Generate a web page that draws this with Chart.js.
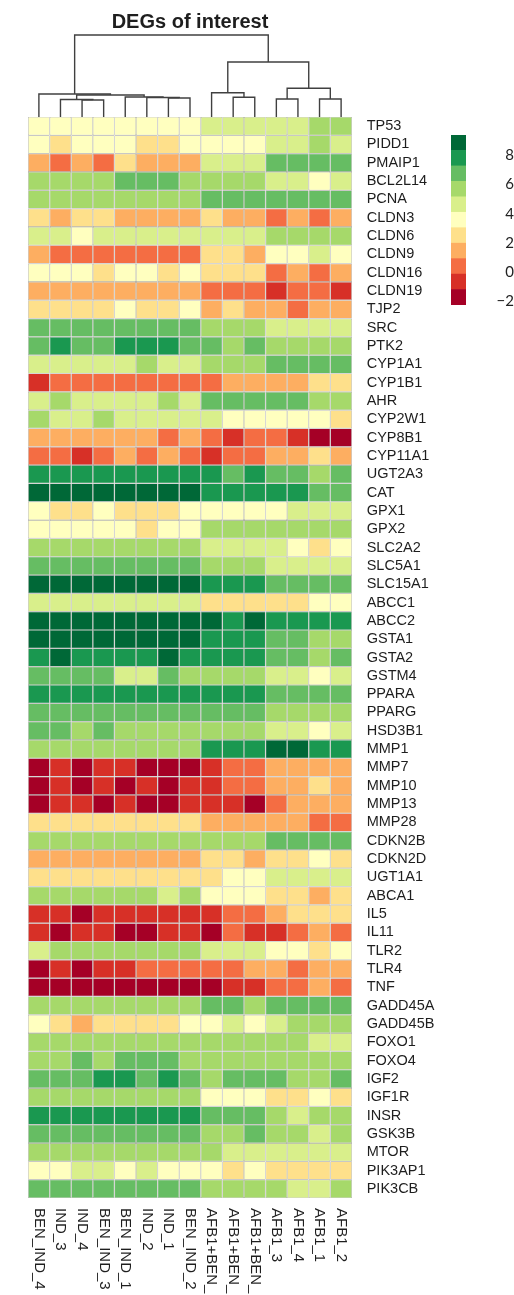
<!DOCTYPE html>
<html>
<head>
<meta charset="utf-8">
<title>DEGs of interest</title>
<script src="https://cdn.jsdelivr.net/npm/chart.js@4.4.1/dist/chart.umd.min.js"></script>
<style>
  html, body { margin: 0; padding: 0; background: #fff; }
  #wrap { position: relative; width: 514px; height: 1295px; }
  #heat { position: absolute; left: 0; top: 0; }
  #legend { position: absolute; left: 440px; top: 100px; }
</style>
</head>
<body>
<div id="wrap">
  <canvas id="heat" width="514" height="1295"></canvas>
  <canvas id="legend" width="74" height="240"></canvas>
</div>
<script>
  // rows top to bottom, columns left to right (dendrogram order)
  const genes = ['TP53', 'PIDD1', 'PMAIP1', 'BCL2L14', 'PCNA', 'CLDN3', 'CLDN6', 'CLDN9', 'CLDN16', 'CLDN19',
    'TJP2', 'SRC', 'PTK2', 'CYP1A1', 'CYP1B1', 'AHR', 'CYP2W1', 'CYP8B1', 'CYP11A1', 'UGT2A3',
    'CAT', 'GPX1', 'GPX2', 'SLC2A2', 'SLC5A1', 'SLC15A1', 'ABCC1', 'ABCC2', 'GSTA1', 'GSTA2',
    'GSTM4', 'PPARA', 'PPARG', 'HSD3B1', 'MMP1', 'MMP7', 'MMP10', 'MMP13', 'MMP28', 'CDKN2B',
    'CDKN2D', 'UGT1A1', 'ABCA1', 'IL5', 'IL11', 'TLR2', 'TLR4', 'TNF', 'GADD45A', 'GADD45B',
    'FOXO1', 'FOXO4', 'IGF2', 'IGF1R', 'INSR', 'GSK3B', 'MTOR', 'PIK3AP1', 'PIK3CB'];

  const samples = ['BEN_IND_4', 'IND_3', 'IND_4', 'BEN_IND_3', 'BEN_IND_1', 'IND_2', 'IND_1', 'BEN_IND_2',
    'AFB1+BEN_', 'AFB1+BEN_', 'AFB1+BEN_', 'AFB1_3', 'AFB1_4', 'AFB1_1', 'AFB1_2'];

  const values = [
    [3.6, 3.6, 3.6, 3.6, 3.6, 3.6, 3.6, 3.6, 4.6, 4.6, 4.6, 4.6, 4.6, 5.7, 5.7],
    [3.6, 2.5, 3.6, 3.6, 3.6, 2.5, 2.5, 3.6, 3.6, 3.6, 3.6, 4.6, 4.6, 5.7, 4.6],
    [1.5, 0.4, 1.5, 0.4, 2.5, 1.5, 1.5, 1.5, 4.6, 4.6, 4.6, 6.8, 6.8, 6.8, 6.8],
    [5.7, 5.7, 5.7, 5.7, 6.8, 6.8, 6.8, 5.7, 5.7, 5.7, 5.7, 4.6, 4.6, 3.6, 4.6],
    [5.7, 5.7, 5.7, 5.7, 5.7, 5.7, 5.7, 5.7, 6.8, 6.8, 6.8, 6.8, 6.8, 6.8, 6.8],
    [2.5, 1.5, 2.5, 2.5, 1.5, 1.5, 1.5, 1.5, 2.5, 1.5, 1.5, 0.4, 1.5, 0.4, 1.5],
    [4.6, 4.6, 3.6, 4.6, 4.6, 4.6, 4.6, 4.6, 4.6, 4.6, 4.6, 5.7, 5.7, 5.7, 5.7],
    [1.5, 0.4, 0.4, 0.4, 0.4, 0.4, 0.4, 0.4, 2.5, 2.5, 1.5, 3.6, 3.6, 4.6, 3.6],
    [3.6, 3.6, 3.6, 2.5, 3.6, 3.6, 2.5, 3.6, 2.5, 2.5, 2.5, 0.4, 1.5, 0.4, 1.5],
    [1.5, 1.5, 1.5, 1.5, 1.5, 1.5, 1.5, 1.5, 0.4, 0.4, 0.4, -0.7, 0.4, 0.4, -0.7],
    [2.5, 2.5, 2.5, 2.5, 3.6, 2.5, 2.5, 3.6, 1.5, 2.5, 1.5, 1.5, 0.4, 1.5, 1.5],
    [6.8, 6.8, 6.8, 6.8, 6.8, 6.8, 6.8, 6.8, 5.7, 5.7, 5.7, 4.6, 4.6, 4.6, 4.6],
    [6.8, 7.8, 6.8, 6.8, 7.8, 7.8, 7.8, 6.8, 6.8, 5.7, 6.8, 5.7, 5.7, 5.7, 5.7],
    [4.6, 4.6, 4.6, 4.6, 4.6, 5.7, 4.6, 4.6, 5.7, 5.7, 5.7, 6.8, 6.8, 6.8, 6.8],
    [-0.7, 0.4, 0.4, 0.4, 0.4, 0.4, 0.4, 0.4, 0.4, 1.5, 1.5, 1.5, 1.5, 2.5, 2.5],
    [4.6, 5.7, 4.6, 4.6, 4.6, 4.6, 5.7, 4.6, 6.8, 6.8, 6.8, 6.8, 6.8, 5.7, 5.7],
    [5.7, 4.6, 4.6, 5.7, 4.6, 4.6, 4.6, 4.6, 4.6, 3.6, 3.6, 3.6, 3.6, 3.6, 2.5],
    [1.5, 1.5, 1.5, 1.5, 1.5, 1.5, 0.4, 1.5, 0.4, -0.7, 0.4, 0.4, -0.7, -1.7, -1.7],
    [0.4, 0.4, -0.7, 0.4, 1.5, 0.4, 1.5, 0.4, -0.7, 0.4, 0.4, 1.5, 1.5, 2.5, 1.5],
    [7.8, 7.8, 7.8, 7.8, 7.8, 7.8, 7.8, 7.8, 7.8, 6.8, 7.8, 6.8, 6.8, 5.7, 6.8],
    [8.9, 8.9, 8.9, 8.9, 8.9, 8.9, 8.9, 8.9, 7.8, 7.8, 7.8, 7.8, 7.8, 6.8, 6.8],
    [3.6, 2.5, 2.5, 3.6, 2.5, 2.5, 2.5, 3.6, 3.6, 3.6, 3.6, 3.6, 4.6, 4.6, 4.6],
    [3.6, 3.6, 3.6, 3.6, 3.6, 2.5, 3.6, 3.6, 5.7, 5.7, 5.7, 5.7, 5.7, 5.7, 5.7],
    [5.7, 5.7, 5.7, 5.7, 5.7, 5.7, 5.7, 5.7, 4.6, 4.6, 4.6, 4.6, 3.6, 2.5, 3.6],
    [6.8, 6.8, 6.8, 6.8, 6.8, 6.8, 6.8, 6.8, 5.7, 5.7, 5.7, 4.6, 4.6, 4.6, 4.6],
    [8.9, 8.9, 8.9, 8.9, 8.9, 8.9, 8.9, 8.9, 7.8, 7.8, 7.8, 6.8, 6.8, 6.8, 6.8],
    [4.6, 4.6, 4.6, 4.6, 4.6, 4.6, 4.6, 4.6, 2.5, 2.5, 2.5, 2.5, 2.5, 3.6, 3.6],
    [8.9, 8.9, 8.9, 8.9, 8.9, 8.9, 8.9, 8.9, 8.9, 7.8, 8.9, 7.8, 7.8, 7.8, 7.8],
    [8.9, 8.9, 8.9, 8.9, 8.9, 8.9, 8.9, 8.9, 7.8, 7.8, 7.8, 6.8, 6.8, 5.7, 5.7],
    [7.8, 8.9, 7.8, 7.8, 7.8, 7.8, 8.9, 7.8, 7.8, 7.8, 7.8, 6.8, 6.8, 5.7, 6.8],
    [6.8, 6.8, 6.8, 6.8, 4.6, 4.6, 6.8, 5.7, 5.7, 5.7, 5.7, 4.6, 4.6, 3.6, 4.6],
    [7.8, 7.8, 7.8, 7.8, 7.8, 7.8, 7.8, 7.8, 7.8, 7.8, 7.8, 6.8, 6.8, 6.8, 6.8],
    [6.8, 6.8, 6.8, 6.8, 6.8, 6.8, 6.8, 6.8, 6.8, 6.8, 6.8, 5.7, 5.7, 5.7, 5.7],
    [6.8, 6.8, 5.7, 6.8, 5.7, 5.7, 5.7, 5.7, 5.7, 5.7, 5.7, 4.6, 4.6, 3.6, 4.6],
    [5.7, 5.7, 5.7, 5.7, 5.7, 5.7, 5.7, 5.7, 7.8, 7.8, 7.8, 8.9, 8.9, 7.8, 7.8],
    [-1.7, -0.7, -1.7, -0.7, -0.7, -1.7, -1.7, -1.7, -0.7, 0.4, 0.4, 1.5, 1.5, 1.5, 1.5],
    [-1.7, -0.7, -1.7, -0.7, -1.7, -0.7, -1.7, -0.7, -0.7, 0.4, 0.4, 1.5, 1.5, 2.5, 1.5],
    [-1.7, -0.7, -0.7, -1.7, -0.7, -1.7, -1.7, -0.7, -0.7, -0.7, -1.7, 0.4, 1.5, 1.5, 1.5],
    [2.5, 2.5, 2.5, 2.5, 2.5, 2.5, 2.5, 2.5, 1.5, 1.5, 1.5, 1.5, 1.5, 0.4, 0.4],
    [5.7, 5.7, 5.7, 5.7, 5.7, 5.7, 5.7, 5.7, 5.7, 5.7, 5.7, 6.8, 6.8, 6.8, 6.8],
    [1.5, 1.5, 1.5, 1.5, 1.5, 1.5, 1.5, 1.5, 2.5, 2.5, 1.5, 2.5, 2.5, 3.6, 2.5],
    [2.5, 2.5, 2.5, 2.5, 2.5, 2.5, 2.5, 2.5, 2.5, 3.6, 3.6, 4.6, 4.6, 4.6, 4.6],
    [5.7, 5.7, 5.7, 5.7, 5.7, 5.7, 4.6, 5.7, 3.6, 3.6, 3.6, 2.5, 2.5, 1.5, 2.5],
    [-0.7, -0.7, -1.7, -0.7, -0.7, -0.7, -0.7, -0.7, -0.7, 0.4, 0.4, 1.5, 2.5, 2.5, 2.5],
    [-0.7, -1.7, -0.7, -0.7, -1.7, -1.7, -0.7, -0.7, -1.7, 0.4, -0.7, -0.7, 0.4, 1.5, 0.4],
    [4.6, 5.7, 5.7, 5.7, 5.7, 5.7, 5.7, 5.7, 4.6, 4.6, 4.6, 3.6, 3.6, 2.5, 3.6],
    [-1.7, -0.7, -1.7, -0.7, -0.7, 0.4, 0.4, 0.4, 0.4, 0.4, 1.5, 1.5, 0.4, 1.5, 1.5],
    [-1.7, -1.7, -1.7, -1.7, -1.7, -1.7, -1.7, -1.7, -1.7, -0.7, -0.7, 0.4, 0.4, 1.5, 0.4],
    [5.7, 5.7, 5.7, 5.7, 5.7, 5.7, 5.7, 5.7, 6.8, 6.8, 5.7, 6.8, 6.8, 6.8, 6.8],
    [3.6, 2.5, 1.5, 2.5, 2.5, 2.5, 2.5, 3.6, 3.6, 4.6, 3.6, 4.6, 5.7, 5.7, 5.7],
    [5.7, 5.7, 5.7, 5.7, 5.7, 5.7, 5.7, 5.7, 5.7, 5.7, 5.7, 5.7, 5.7, 4.6, 4.6],
    [5.7, 5.7, 6.8, 5.7, 6.8, 6.8, 6.8, 5.7, 5.7, 5.7, 5.7, 5.7, 5.7, 5.7, 5.7],
    [6.8, 6.8, 6.8, 7.8, 7.8, 6.8, 7.8, 6.8, 5.7, 6.8, 6.8, 6.8, 5.7, 5.7, 6.8],
    [5.7, 5.7, 5.7, 5.7, 5.7, 5.7, 5.7, 5.7, 3.6, 3.6, 3.6, 2.5, 2.5, 3.6, 2.5],
    [7.8, 7.8, 7.8, 7.8, 7.8, 7.8, 7.8, 7.8, 6.8, 6.8, 6.8, 5.7, 4.6, 5.7, 5.7],
    [6.8, 6.8, 6.8, 6.8, 6.8, 6.8, 6.8, 6.8, 5.7, 5.7, 6.8, 5.7, 5.7, 4.6, 5.7],
    [5.7, 5.7, 5.7, 5.7, 5.7, 5.7, 5.7, 5.7, 5.7, 4.6, 4.6, 4.6, 4.6, 4.6, 4.6],
    [3.6, 3.6, 4.6, 4.6, 3.6, 4.6, 3.6, 3.6, 3.6, 2.5, 3.6, 2.5, 2.5, 2.5, 2.5],
    [6.8, 6.8, 6.8, 6.8, 6.8, 6.8, 6.8, 6.8, 5.7, 5.7, 5.7, 5.7, 4.6, 4.6, 5.7]
  ];

  // column clustering, hclust style: -n = leaf n (1-based column), n = earlier merge n
  const merges = [
    [-3, -4, 17],
    [-2, 1, 17.5],
    [-7, -8, 19],
    [-6, 3, 19.5],
    [-5, 4, 20],
    [2, 5, 22],
    [-1, 6, 23],
    [-10, -11, 19.7],
    [-9, 8, 24.3],
    [-12, -13, 18],
    [-14, -15, 18],
    [10, 11, 28.7],
    [9, 12, 55],
    [7, 13, 82]
  ];

  const palette = ['#a50026', '#d73027', '#f46d43', '#fdae61', '#fee08b', '#ffffbf',
    '#d9ef8b', '#a6d96a', '#66bd63', '#1a9850', '#006837'];
  const legendMin = -2.27;
  const legendMax = 9.41;
  const legendTicks = [8, 6, 4, 2, 0, -2];

  const FONT = '"Liberation Sans", Arial, sans-serif';
  const binW = (legendMax - legendMin) / palette.length;

  function colorOf(v) {
    let k = Math.floor((v - legendMin) / binW);
    k = Math.max(0, Math.min(palette.length - 1, k));
    return palette[k];
  }

  const heatSets = genes.map((g, r) => ({
    type: 'bar',
    label: g,
    xAxisID: 'x',
    yAxisID: 'y',
    data: samples.map((s, c) => ({ x: c + 0.5, y: 1 })),
    backgroundColor: values[r].map(colorOf),
    borderColor: '#a3a3a0',
    borderWidth: 0.6,
    borderSkipped: false,
    inflateAmount: 0,
    barPercentage: 1,
    categoryPercentage: 1
  }));

  const nodeX = [], nodeH = [];
  function nodePos(id) {
    return id < 0 ? [-id - 0.5, 0] : [nodeX[id - 1], nodeH[id - 1]];
  }
  const dendroSets = merges.map(([a, b, h], k) => {
    const [xa, ha] = nodePos(a);
    const [xb, hb] = nodePos(b);
    nodeX[k] = (xa + xb) / 2;
    nodeH[k] = h;
    return {
      type: 'line',
      xAxisID: 'x',
      yAxisID: 'yD',
      data: [{ x: xa, y: ha }, { x: xa, y: h }, { x: xb, y: h }, { x: xb, y: hb }],
      borderColor: '#404040',
      borderWidth: 1.4,
      pointRadius: 0,
      fill: false,
      tension: 0
    };
  });

  const colLabels = {
    id: 'colLabels',
    afterDraw(chart) {
      const { ctx, chartArea, scales: { x } } = chart;
      ctx.save();
      ctx.font = `15px ${FONT}`;
      ctx.fillStyle = '#1e1e1e';
      ctx.textAlign = 'left';
      ctx.textBaseline = 'middle';
      samples.forEach((s, i) => {
        ctx.save();
        ctx.translate(x.getPixelForValue(i + 0.5), chartArea.bottom + 10);
        ctx.rotate(Math.PI / 2);
        ctx.fillText(s, 0, 0);
        ctx.restore();
      });
      ctx.restore();
    }
  };

  new Chart(document.getElementById('heat'), {
    type: 'bar',
    data: { datasets: [...heatSets, ...dendroSets] },
    plugins: [colLabels],
    options: {
      responsive: false,
      animation: false,
      events: [],
      layout: { padding: { left: 17.3, right: 0, top: 0, bottom: 97 } },
      plugins: {
        legend: { display: false },
        tooltip: { enabled: false },
        title: {
          display: true,
          text: 'DEGs of interest',
          fullSize: false,
          color: '#1e1e1e',
          font: { family: FONT, size: 20, weight: 'bold', lineHeight: 1.2 },
          padding: { top: 10, bottom: 0 }
        }
      },
      scales: {
        x: {
          type: 'linear', min: 0, max: samples.length, stacked: true, display: false,
          ticks: { stepSize: 1 }
        },
        yD: {
          type: 'linear', position: 'right', stack: 'heat', stackWeight: 83, weight: 0,
          min: 0, max: 83,
          grid: { display: false, drawTicks: false },
          border: { display: false },
          ticks: { display: false },
          afterFit(s) { s.width = 151.3; }
        },
        y: {
          type: 'linear', position: 'right', stack: 'heat', stackWeight: 1081, weight: 1,
          reverse: true, min: 0, max: genes.length, stacked: true,
          grid: { display: false, drawTicks: false },
          border: { display: false },
          afterBuildTicks(s) { s.ticks = genes.map((g, i) => ({ value: i + 0.5 })); },
          afterFit(s) { s.width = 151.3; },
          ticks: {
            autoSkip: false,
            padding: 4,
            color: '#1e1e1e',
            font: { family: FONT, size: 14.5 },
            callback: (v, i) => genes[i]
          }
        }
      }
    }
  });

  // colour key
  new Chart(document.getElementById('legend'), {
    type: 'bar',
    data: {
      labels: [''],
      datasets: palette.map((c, k) => ({
        data: [[legendMin + k * binW, legendMin + (k + 1) * binW]],
        backgroundColor: c,
        grouped: false,
        borderWidth: 0,
        barPercentage: 1,
        categoryPercentage: 1
      }))
    },
    options: {
      responsive: false,
      animation: false,
      events: [],
      layout: { padding: { left: 11, right: 0, top: 16.6, bottom: 16.6 } },
      plugins: { legend: { display: false }, tooltip: { enabled: false } },
      scales: {
        x: { display: false },
        y: {
          position: 'right', min: legendMin, max: legendMax,
          grid: { display: false, drawTicks: false },
          border: { display: false },
          afterBuildTicks(s) { s.ticks = legendTicks.map(v => ({ value: v })); },
          afterFit(s) { s.width = 48; },
          ticks: {
            padding: 26,
            crossAlign: 'far',
            color: '#222',
            font: { family: 'Lato', size: 15 },
            callback: v => (v < 0 ? '\u2212' + Math.abs(v) : String(v))
          }
        }
      }
    }
  });
</script>
</body>
</html>
